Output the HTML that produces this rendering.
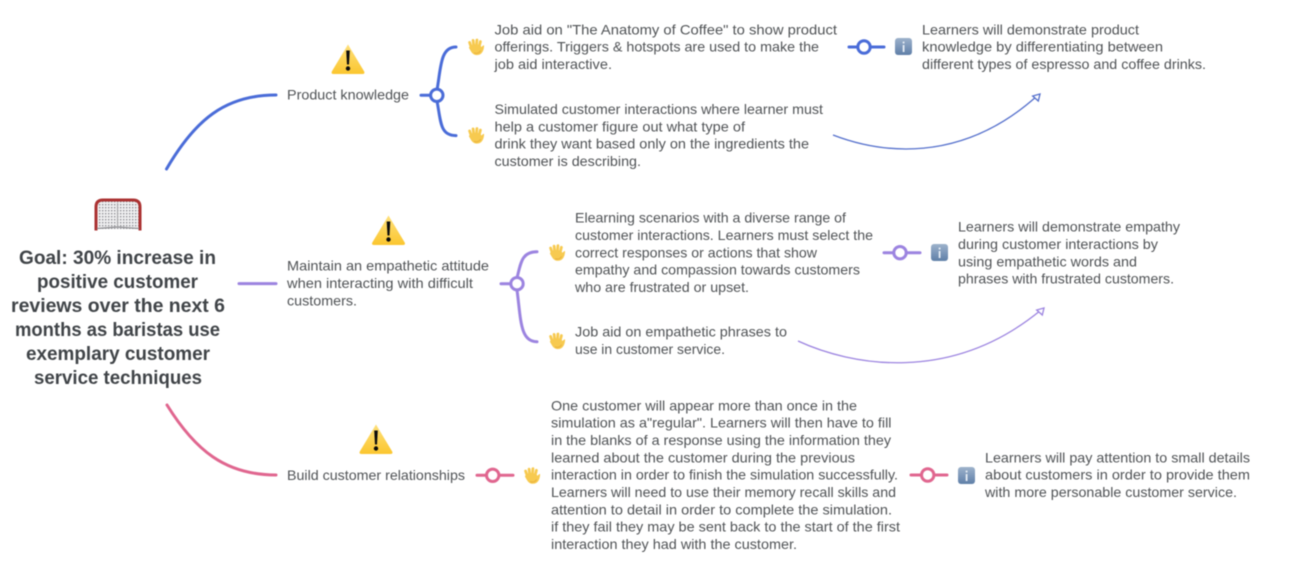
<!DOCTYPE html>
<html lang="en">
<head>
<meta charset="utf-8">
<title>Goal map</title>
<style>
html,body{margin:0;padding:0;background:#fff;width:1292px;height:572px;overflow:hidden}
svg{display:block;filter:blur(.4px)}
text{font-family:"Liberation Sans",sans-serif;font-size:13.6px;fill:#505356}
text.g{font-size:19.5px;font-weight:700;fill:#404448}
</style>
</head>
<body>
<svg width="1292" height="572" viewBox="0 0 1292 572" xmlns="http://www.w3.org/2000/svg">
<defs>
<linearGradient id="wg" x1="0" y1="0" x2="0" y2="1"><stop offset="0" stop-color="#fee07a"/><stop offset="1" stop-color="#fbc62f"/></linearGradient>
<linearGradient id="ig" x1="0" y1="0" x2="0" y2="1"><stop offset="0" stop-color="#9db2cb"/><stop offset="1" stop-color="#5f7fa8"/></linearGradient>
<pattern id="net" width="3" height="3" patternUnits="userSpaceOnUse"><rect width="3" height="3" fill="#f1f1f2"/><rect width="1.4" height="1.4" fill="#8f8f94"/></pattern>
<g id="warn">
<path d="M17 0.5 L33.2 27.5 Q34.2 30 31.5 30 L2.5 30 Q-.2 30 .8 27.5 Z" fill="url(#wg)"/>
<path d="M15.2 6.5 H18.8 L18 20.5 H16 Z" fill="#0c0c0c"/>
<circle cx="17" cy="24.5" r="2.2" fill="#0c0c0c"/>
</g>
<g id="hand" fill="#f7ca50" stroke="#f7ca50" stroke-linecap="round">
<path d="M-5 -0.5 L-6.4 -4.6" stroke-width="2.8"/>
<path d="M-2.4 -2 L-2.9 -6.6" stroke-width="2.8"/>
<path d="M.5 -2 L.9 -7" stroke-width="2.8"/>
<path d="M3.3 -1 L4.4 -5.4" stroke-width="2.8"/>
<path d="M-6 0 C-5 -3 5 -3 5 1 L7.6 -1.2 C7.4 2.6 6 7.6 .8 7.6 C-3 7.6 -4.2 5 -6.6 .6 Z" stroke-width="1" stroke-linejoin="round"/>
<path d="M-1.5 6 C.6 6.8 3 6.2 4.4 4" fill="none" stroke="#e6ad3b" stroke-width=".9"/>
</g>
<g id="info">
<rect width="17" height="17" rx="3" fill="url(#ig)"/>
<rect x="7.7" y="7" width="1.8" height="7" fill="#e6edf5"/>
<rect x="7.7" y="3.6" width="1.8" height="1.9" fill="#e6edf5"/>
</g>
</defs>

<!-- main branches -->
<g fill="none" stroke-width="3" stroke-linecap="round">
<path d="M166.5 169 C195 120 225 95 276 95" stroke="#4a6cd8"/>
<path d="M239 283.6 H276" stroke="#9c84e0"/>
<path d="M167 405 C195 450 225 475 276 475" stroke="#e0668f"/>

<!-- blue fork -->
<path d="M421 95.3 H431" stroke="#4a6cd8"/>
<path d="M437 90 C441 68 440 47 456 47" stroke="#4a6cd8"/>
<path d="M437 101 C441 122 440 135.6 456 135.6" stroke="#4a6cd8"/>
<circle cx="436.8" cy="95.3" r="6.2" fill="#fff" stroke="#4a6cd8"/>

<!-- purple fork -->
<path d="M501 283.7 H511" stroke="#9c84e0"/>
<path d="M517 278 C521 262 522 251.7 537 251.7" stroke="#9c84e0"/>
<path d="M517 290 C521 320 520 341.7 537 341.7" stroke="#9c84e0"/>
<circle cx="517" cy="283.7" r="6.2" fill="#fff" stroke="#9c84e0"/>

<!-- straight connectors -->
<path d="M849 47 H884" stroke="#4a6cd8"/>
<circle cx="864" cy="47" r="6.2" fill="#fff" stroke="#4a6cd8"/>
<path d="M884 252.7 H920" stroke="#9c84e0"/>
<circle cx="900" cy="252.7" r="6.2" fill="#fff" stroke="#9c84e0"/>
<path d="M477 475.3 H513" stroke="#e0668f"/>
<circle cx="492.7" cy="475.3" r="6.2" fill="#fff" stroke="#e0668f"/>
<path d="M911 475 H947" stroke="#e0668f"/>
<circle cx="927.7" cy="475" r="6.2" fill="#fff" stroke="#e0668f"/>
</g>

<!-- relation arrows -->
<g fill="none" stroke-width="1.3">
<path d="M833 135 C880 153 960 165 1037 96" stroke="#5570cc"/>
<path d="M1040 94 L1032.7 96 L1038.3 101 Z" fill="#fff" stroke="#5570cc"/>
<path d="M798 341 C850 365 950 385 1041 310" stroke="#9c84e0"/>
<path d="M1044 308 L1036.7 310 L1042.3 315 Z" fill="#fff" stroke="#9c84e0"/>
</g>

<!-- goal icon -->
<g>
<path d="M96.5 229 V207 Q96.5 200.5 103 200.5 H133 Q139.5 200.5 139.5 207 V229" fill="url(#net)" stroke="none"/>
<path d="M96 230.500 V207 Q96 200 103 200 H133 Q140 200 140 207 V230.500" fill="none" stroke="#ab3232" stroke-width="3"/>
<path d="M97 228.500 L117.500 227 L139 228.500" fill="none" stroke="#8e8e92" stroke-width="1.2"/>
<path d="M117.500 203 V227" fill="none" stroke="#a9a9ad" stroke-width="1.1"/>
</g>

<!-- warnings -->
<use href="#warn" x="331" y="44"/>
<use href="#warn" x="371.500" y="215"/>
<use href="#warn" x="359" y="424"/>

<!-- hands -->
<use href="#hand" x="476" y="47"/>
<use href="#hand" x="476" y="135.500"/>
<use href="#hand" x="557" y="252.700"/>
<use href="#hand" x="557" y="341"/>
<use href="#hand" x="532" y="475.700"/>

<!-- info -->
<use href="#info" x="895" y="38"/>
<use href="#info" x="931" y="244"/>
<use href="#info" x="958" y="467"/>

<!-- goal text -->
<text class="g" x="19" y="264" textLength="197" lengthAdjust="spacingAndGlyphs">Goal: 30% increase in</text>
<text class="g" x="37" y="288" textLength="161" lengthAdjust="spacingAndGlyphs">positive customer</text>
<text class="g" x="11" y="312" textLength="214" lengthAdjust="spacingAndGlyphs">reviews over the next 6</text>
<text class="g" x="15" y="336" textLength="205" lengthAdjust="spacingAndGlyphs">months as baristas use</text>
<text class="g" x="26" y="360" textLength="184" lengthAdjust="spacingAndGlyphs">exemplary customer</text>
<text class="g" x="34" y="384" textLength="168" lengthAdjust="spacingAndGlyphs">service techniques</text>

<!-- level 1 -->
<text x="287" y="99.500" textLength="122" lengthAdjust="spacingAndGlyphs">Product knowledge</text>
<text x="287" y="270.600" textLength="202" lengthAdjust="spacingAndGlyphs">Maintain an empathetic attitude</text>
<text x="287" y="288" textLength="186" lengthAdjust="spacingAndGlyphs">when interacting with difficult</text>
<text x="287" y="305.300" textLength="70" lengthAdjust="spacingAndGlyphs">customers.</text>
<text x="287" y="480" textLength="178" lengthAdjust="spacingAndGlyphs">Build customer relationships</text>

<!-- blue activities -->
<text x="494.500" y="34.300" textLength="342.500" lengthAdjust="spacingAndGlyphs">Job aid on "The Anatomy of Coffee" to show product</text>
<text x="494.500" y="51.700" textLength="324.500" lengthAdjust="spacingAndGlyphs">offerings. Triggers &amp; hotspots are used to make the</text>
<text x="494.500" y="69" textLength="117.500" lengthAdjust="spacingAndGlyphs">job aid interactive.</text>
<text x="494.500" y="114" textLength="328.500" lengthAdjust="spacingAndGlyphs">Simulated customer interactions where learner must</text>
<text x="494.500" y="131.300" textLength="250.500" lengthAdjust="spacingAndGlyphs">help a customer figure out what type of</text>
<text x="494.500" y="148.700" textLength="314.500" lengthAdjust="spacingAndGlyphs">drink they want based only on the ingredients the</text>
<text x="494.500" y="166" textLength="146.500" lengthAdjust="spacingAndGlyphs">customer is describing.</text>

<!-- blue outcome -->
<text x="922" y="34.300" textLength="217" lengthAdjust="spacingAndGlyphs">Learners will demonstrate product</text>
<text x="922" y="51.700" textLength="241" lengthAdjust="spacingAndGlyphs">knowledge by differentiating between</text>
<text x="922" y="69" textLength="284" lengthAdjust="spacingAndGlyphs">different types of espresso and coffee drinks.</text>

<!-- purple activities -->
<text x="575" y="222.700" textLength="271" lengthAdjust="spacingAndGlyphs">Elearning scenarios with a diverse range of</text>
<text x="575" y="240" textLength="298" lengthAdjust="spacingAndGlyphs">customer interactions. Learners must select the</text>
<text x="575" y="257.300" textLength="242" lengthAdjust="spacingAndGlyphs">correct responses or actions that show</text>
<text x="575" y="274.700" textLength="285" lengthAdjust="spacingAndGlyphs">empathy and compassion towards customers</text>
<text x="575" y="292" textLength="174" lengthAdjust="spacingAndGlyphs">who are frustrated or upset.</text>
<text x="575" y="336.700" textLength="212" lengthAdjust="spacingAndGlyphs">Job aid on empathetic phrases to</text>
<text x="575" y="354" textLength="150" lengthAdjust="spacingAndGlyphs">use in customer service.</text>

<!-- purple outcome -->
<text x="958" y="231.700" textLength="222" lengthAdjust="spacingAndGlyphs">Learners will demonstrate empathy</text>
<text x="958" y="249" textLength="200" lengthAdjust="spacingAndGlyphs">during customer interactions by</text>
<text x="958" y="266.300" textLength="179" lengthAdjust="spacingAndGlyphs">using empathetic words and</text>
<text x="958" y="283.700" textLength="216" lengthAdjust="spacingAndGlyphs">phrases with frustrated customers.</text>

<!-- pink activity -->
<text x="551" y="410.300" textLength="306" lengthAdjust="spacingAndGlyphs">One customer will appear more than once in the</text>
<text x="551" y="427.700" textLength="340.500" lengthAdjust="spacingAndGlyphs">simulation as a"regular". Learners will then have to fill</text>
<text x="551" y="445" textLength="340" lengthAdjust="spacingAndGlyphs">in the blanks of a response using the information they</text>
<text x="551" y="462.300" textLength="304" lengthAdjust="spacingAndGlyphs">learned about the customer during the previous</text>
<text x="551" y="479.700" textLength="347" lengthAdjust="spacingAndGlyphs">interaction in order to finish the simulation successfully.</text>
<text x="551" y="497" textLength="345" lengthAdjust="spacingAndGlyphs">Learners will need to use their memory recall skills and</text>
<text x="551" y="514.300" textLength="341" lengthAdjust="spacingAndGlyphs">attention to detail in order to complete the simulation.</text>
<text x="551" y="531.700" textLength="349" lengthAdjust="spacingAndGlyphs">if they fail they may be sent back to the start of the first</text>
<text x="551" y="549" textLength="246" lengthAdjust="spacingAndGlyphs">interaction they had with the customer.</text>

<!-- pink outcome -->
<text x="985" y="462.300" textLength="265" lengthAdjust="spacingAndGlyphs">Learners will pay attention to small details</text>
<text x="985" y="479.700" textLength="265" lengthAdjust="spacingAndGlyphs">about customers in order to provide them</text>
<text x="985" y="497" textLength="252" lengthAdjust="spacingAndGlyphs">with more personable customer service.</text>
</svg>
</body>
</html>
